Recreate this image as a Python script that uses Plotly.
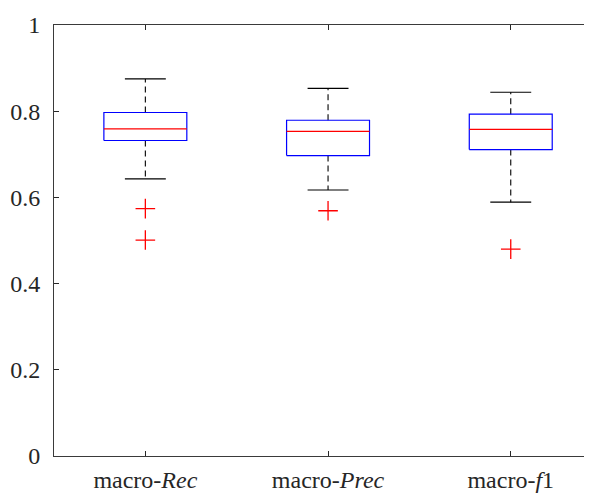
import plotly.graph_objects as go

categories = ["macro-<i>Rec</i>", "macro-<i>Prec</i>", "macro-<i>f</i>1"]
positions = [1, 2, 3]
upper_whisker = [0.875, 0.853, 0.844]
q3 = [0.797, 0.779, 0.793]
median = [0.759, 0.753, 0.758]
q1 = [0.732, 0.697, 0.711]
lower_whisker = [0.643, 0.617, 0.589]
outlier_x = [1, 1, 2, 3]
outlier_y = [0.574, 0.501, 0.569, 0.480]

BOX_HALF = 0.227
CAP_HALF = 0.112

fig = go.Figure()

# whiskers (dashed)
wx, wy = [], []
for p, a, b, c, d in zip(positions, upper_whisker, q3, q1, lower_whisker):
    wx += [p, p, None, p, p, None]
    wy += [b, a, None, c, d, None]
fig.add_trace(go.Scatter(x=wx, y=wy, mode="lines",
                         line=dict(color="black", width=1.1, dash="6px,4px"),
                         hoverinfo="skip", showlegend=False))
# caps
cx, cy = [], []
for p, a, d in zip(positions, upper_whisker, lower_whisker):
    cx += [p - CAP_HALF, p + CAP_HALF, None, p - CAP_HALF, p + CAP_HALF, None]
    cy += [a, a, None, d, d, None]
fig.add_trace(go.Scatter(x=cx, y=cy, mode="lines",
                         line=dict(color="black", width=1.1),
                         hoverinfo="skip", showlegend=False))
# boxes
bx, by = [], []
for p, b, c in zip(positions, q3, q1):
    bx += [p - BOX_HALF, p + BOX_HALF, p + BOX_HALF, p - BOX_HALF, p - BOX_HALF, None]
    by += [c, c, b, b, c, None]
fig.add_trace(go.Scatter(x=bx, y=by, mode="lines",
                         line=dict(color="#0000ff", width=1.2),
                         hoverinfo="skip", showlegend=False))
# medians
mx, my = [], []
for p, m in zip(positions, median):
    mx += [p - BOX_HALF, p + BOX_HALF, None]
    my += [m, m, None]
fig.add_trace(go.Scatter(x=mx, y=my, mode="lines",
                         line=dict(color="#ff0000", width=1.2),
                         hoverinfo="skip", showlegend=False))
# outliers
fig.add_trace(go.Scatter(x=outlier_x, y=outlier_y, mode="markers",
                         marker=dict(symbol="cross-thin", size=14,
                                     line=dict(color="#ff0000", width=1.3)),
                         hoverinfo="skip", showlegend=False))

# page body has an 8px margin: figure is placed at (8, 8)
W, H = 584, 485
L, R, T, B = 46, 0, 16.5, 37
unit_px = 182.7
xmax = 0.5 + (W - L - R) / unit_px

fig.update_layout(
    width=W, height=H,
    margin=dict(l=L, r=R, t=T, b=B, autoexpand=False),
    plot_bgcolor="white", paper_bgcolor="white",
    font=dict(family="Liberation Serif", size=24, color="#262626"),
    xaxis=dict(range=[0.5, xmax], tickvals=positions, ticktext=categories,
               ticks="inside", ticklen=5, tickcolor="#262626",
               showline=True, linecolor="#3a3a3a", linewidth=1,
               mirror="ticks", showgrid=False, zeroline=False,
               ticklabelstandoff=2),
    yaxis=dict(range=[0, 1], tickvals=[0, 0.2, 0.4, 0.6, 0.8, 1],
               ticktext=["0", "0.2", "0.4", "0.6", "0.8", "1"],
               ticks="inside", ticklen=5, tickcolor="#262626",
               showline=True, linecolor="#3a3a3a", linewidth=1,
               mirror=False, showgrid=False, zeroline=False,
               ticklabelstandoff=8),
)

fig.write_html("out.html")
